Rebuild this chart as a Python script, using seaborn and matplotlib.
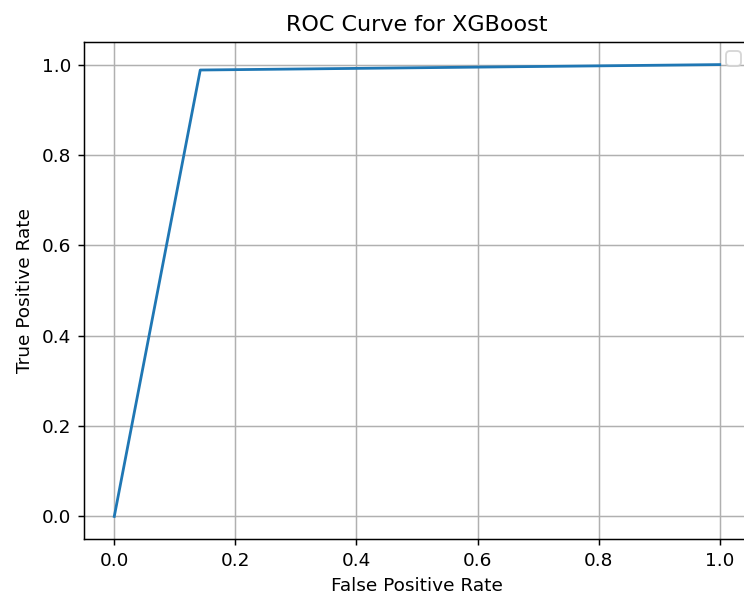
import matplotlib
matplotlib.use("Agg")
import matplotlib.pyplot as plt
import seaborn as sns
import pandas as pd

# ROC curve points for the XGBoost classifier
fpr = [0.0, 0.142, 1.0]
tpr = [0.0, 0.988, 1.0]

df = pd.DataFrame({"False Positive Rate": fpr, "True Positive Rate": tpr})

DPI = 400 / 3
fig = plt.figure(figsize=(744 / DPI, 599 / DPI), dpi=DPI)
ax = fig.add_axes([84 / 744, (599 - 539) / 599, 666 / 744, 497 / 599])

sns.lineplot(data=df, x="False Positive Rate", y="True Positive Rate",
             ax=ax, sort=False, estimator=None, color="#1f77b4", linewidth=1.5)

ax.set_xlim(-0.05, 1.05)
ax.set_ylim(-0.05, 1.05)
ax.set_xticks([0.0, 0.2, 0.4, 0.6, 0.8, 1.0])
ax.set_yticks([0.0, 0.2, 0.4, 0.6, 0.8, 1.0])
ax.set_xlabel("False Positive Rate")
ax.set_ylabel("True Positive Rate")
ax.set_title("ROC Curve for XGBoost")
ax.grid(True)
ax.legend(handles=[], loc="upper right")

fig.savefig("out.png", dpi=DPI)
